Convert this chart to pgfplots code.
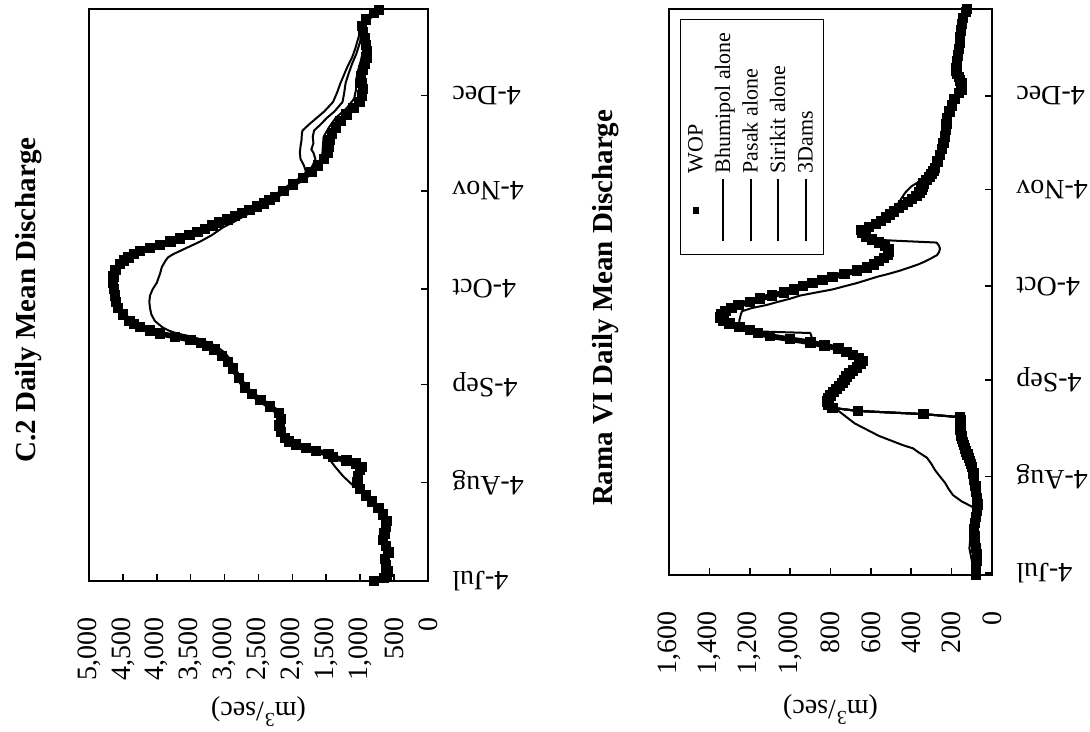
\documentclass[border=0pt]{standalone}
\usepackage{fontspec}
\setmainfont{Liberation Serif}
\usepackage{pgfplots}
\usepackage{pgfplotstable}
\pgfplotsset{compat=1.18}

% ---------- C.2 ----------
\pgfplotstableread{
d v
0 800
1 650
2 610
3 600
5 615
7 630
9 580
11 620
13 660
15 640
17 620
19 610
21 660
23 730
25 830
27 910
29 1000
31 1040
33 1030
35 1000
36 980
37 1060
38 1200
39 1400
40 1470
41 1650
42 1800
43 1950
44 2050
45 2110
47 2170
49 2190
51 2170
53 2200
55 2330
57 2470
59 2600
61 2700
64 2790
67 2875
69 2950
71 3040
73 3150
74 3250
75 3350
76 3500
77 3730
78 3950
79 4100
80 4250
81 4340
82 4400
84 4500
86 4570
88 4600
90 4615
92 4635
94 4645
96 4640
98 4610
100 4540
101 4480
102 4420
103 4340
104 4250
105 4100
106 3950
107 3800
108 3660
109 3520
110 3400
111 3290
112 3180
113 3080
114 2960
115 2850
116 2740
117 2630
118 2520
119 2420
120 2340
121 2260
123 2130
125 1990
127 1840
129 1720
131 1620
133 1530
135 1480
137 1470
139 1450
141 1420
143 1360
145 1290
147 1200
149 1100
151 1010
153 975
155 960
157 970
159 985
161 960
163 930
165 905
167 900
169 915
171 930
173 955
175 970
177 910
179 800
180 720
}\wopA

\pgfplotstableread{
d v
0 790
2 620
5 610
9 590
13 650
17 620
21 650
24 770
27 900
30 1100
33 1250
36 1370
38 1440
40 1490
41 1650
42 1800
43 1940
45 2100
49 2180
53 2190
57 2460
61 2690
64 2770
67 2840
70 2920
72 3000
74 3120
76 3330
77 3480
78 3700
79 3830
80 3920
82 4030
84 4080
86 4100
88 4110
90 4100
92 4060
94 4000
97 3950
99 3925
101 3870
102 3835
103 3760
104 3660
105 3560
107 3360
109 3190
111.5 3020
113 2880
115.5 2670
117.5 2480
119.5 2310
121 2220
123 2110
125 1990
127 1860
129 1800
131 1830
133 1880
135 1890
137 1880
139 1865
141 1860
142 1850
144 1750
146 1640
148 1530
151 1400
154 1340
157 1290
159 1250
162 1190
165 1120
168 1070
171 1030
174 990
176 950
178 860
180 760
}\tdA

\pgfplotstableread{
d v
127 1840
129 1760
131 1700
133 1660
135 1690
136 1720
138 1690
140 1700
142 1680
144 1580
146 1490
148 1380
151 1260
154 1235
157 1215
160 1170
163 1120
166 1060
170 1000
174 985
177 900
180 740
}\sirAdec

\pgfplotstableread{
d v
127 1840
129 1720
131 1640
134 1560
137 1550
140 1540
143 1460
146 1360
149 1200
152 1090
155 1060
158 1060
161 1030
164 990
168 950
172 960
176 950
180 730
}\bhuAdec

% ---------- Rama VI ----------
\pgfplotstableread{
d v
-0.5 80
2 78
4 76
6 74
8 80
10 84
12 86
14 88
16 84
18 78
20 74
22 72
24 75
26 78
28 82
30 88
32 92
34 100
35 105
36 110
37 115
38 122
39 130
40 135
41 140
42 145
43 150
44 152
45 155
46 156
47 158
48 158
49 157
50 158
51 340
52 665
53 790
54 810
55 818
56 810
57 800
58 785
59 770
60 755
61 740
62 730
63 720
64 705
65 690
66 670
67 650
68 640
69 660
70 690
71 720
72 760
73 830
74 900
75 1000
76 1100
77 1160
78 1200
79 1250
80 1300
81 1330
82 1345
83 1340
84 1320
85 1290
86 1255
87 1200
88 1150
89 1090
90 1030
91 980
92 935
93 890
94 840
95 790
96 730
97 670
98 620
99 585
100 560
101 535
102 515
103 510
104 512
105 530
106 560
107 595
108 625
109 645
110 650
111 610
112 575
113 550
114 525
115 505
116 485
117 460
118 440
119 415
120 395
121 375
122 360
123 350
124 345
125 340
126 325
127 310
128 300
129 290
130 282
132 270
134 258
136 248
138 240
140 233
142 228
144 225
146 222
148 210
150 198
152 185
154 165
155 152
156 148
157 150
158 158
159 165
160 172
161 178
162 176
164 172
166 168
168 165
170 160
172 158
174 155
176 150
178 145
180 130
180.8 124
}\wopB

\pgfplotstableread{
d v
-0.5 88
4 100
8 112
12 106
16 100
19 85
21 90
23 150
25 193
27 215
29 233
31 258
33 282
35 300
37 322
39 370
40 391
41 440
42 480
43 520
44 560
46 620
48 680
50 720
52 760
53 790
55 818
57 800
59 770
61 740
63 720
65 690
67 650
68 640
70 690
72 760
73 830
74 880
75 890
76 895
77 900
77.6 1210
79 1240
80 1250
81 1252
82 1248
83 1244
84 1238
85 1190
86 1115
87 1060
88 1000
89 951
90 870
91 788
92 730
93 670
94 620
95 570
96 510
97 456
98 410
99 365
100 330
101 300
102 272
103 262
104 258
105 262
106 275
106.6 480
107 600
108 630
109 650
110 645
111 620
113 565
115 510
117 470
119 420
121 380
123 350
125 340
127 310
130 282
134 258
138 240
142 228
146 222
150 198
154 165
157 150
160 172
164 172
168 165
172 158
176 150
180.8 126
}\tdB

\pgfplotstableread{
d v
110 650
112 590
114 540
116 500
118 470
120 450
122 430
124 400
126 350
128 310
130 285
134 262
138 245
142 232
146 225
150 200
154 168
158 160
162 180
166 170
170 162
174 158
178 150
180.8 128
}\sirBdec

\pgfplotsset{
  mychart/.style={
    scale only axis,
    anchor=south west,
    clip=false,
    x dir=reverse,
    axis line style={line width=0.8pt, black},
    tick align=inside,
    major tick length=3.5pt,
    tick style={line width=0.8pt, black},
    xtick pos=left, ytick pos=right,
    xticklabel pos=left, yticklabel pos=right,
    ytick={0,31,62,92,123,153},
    yticklabels={4-Jul,4-Aug,4-Sep,4-Oct,4-Nov,4-Dec},
    tick label style={font=\fontsize{14}{16}\selectfont},
    xticklabel style={rotate=90, anchor=east, inner sep=0pt},
    yticklabel style={rotate=180, anchor=east, inner sep=0pt},
    xticklabel shift=18pt,
    yticklabel shift=12pt,
    /pgf/number format/1000 sep={,},
    /pgf/number format/assume math mode=true,
  },
  thin/.style={black, line width=1pt, line join=round},
  wopbase/.style={black, line width=2.8pt, line join=round, forget plot},
  wopmark/.style={black, line width=1pt, mark=square*, mark size=2.1pt, mark options={solid}},
}

\newcommand{\legline}{\rule[3pt]{31pt}{0.9pt}}
\newcommand{\legmark}{\makebox[31pt]{\rule[1.6pt]{3.4pt}{3.4pt}}}

\begin{document}
\begin{tikzpicture}
\useasboundingbox (0,0) rectangle (545pt,366pt);

% ================= C.2 =================
\begin{axis}[mychart, at={(44.5pt,75.5pt)}, width=169.5pt, height=286pt,
  xmin=0, xmax=5000, xtick={0,500,...,5000}, ymin=0, ymax=180.3]
\addplot[thin] table[x=v,y=d] {\tdA};
\addplot[thin] table[x=v,y=d] {\sirAdec};
\addplot[thin] table[x=v,y=d] {\bhuAdec};
\addplot[thin] table[x=v,y=d] {\wopA};
\addplot[wopbase] table[x=v,y=d] {\wopA};
\addplot[wopmark] table[x=v,y=d] {\wopA};
\node[rotate=90, font=\bfseries\fontsize{14.5}{17}\selectfont] at (axis description cs:-0.177,0.491) {C.2 Daily Mean Discharge};
\node[rotate=180, font=\fontsize{14}{16}\selectfont] at (axis description cs:0.5,-0.228) {(m\textsuperscript{3}/sec)};
\end{axis}

% ================= Rama VI =================
\begin{axis}[mychart, at={(334.5pt,78.5pt)}, width=161.5pt, height=283pt,
  xmin=0, xmax=1600, xtick={0,200,...,1600}, ymin=-0.6, ymax=180.9]
\addplot[thin] table[x=v,y=d] {\wopB};
\addplot[thin] table[x=v,y=d] {\wopB};
\addplot[thin, restrict y to domain=-1:110] table[x=v,y=d] {\wopB};
\addplot[thin] table[x=v,y=d] {\sirBdec};
\addplot[thin] table[x=v,y=d] {\tdB};
\addplot[wopbase, restrict y to domain=-1:50] table[x=v,y=d] {\wopB};
\addplot[wopbase, restrict y to domain=53:182] table[x=v,y=d] {\wopB};
\addplot[wopmark] table[x=v,y=d] {\wopB};
\node[rotate=90, font=\bfseries\fontsize{14.5}{17}\selectfont] at (axis description cs:-0.195,0.472) {Rama VI Daily Mean Discharge};
\node[rotate=180, font=\fontsize{14}{16}\selectfont] at (axis description cs:0.5,-0.238) {(m\textsuperscript{3}/sec)};
% legend (rotated like the rest of the page)
\node[rotate=90, draw=black, line width=0.6pt, fill=white, inner xsep=6.5pt, inner ysep=1.5pt, anchor=center]
  at (axis description cs:0.257,0.774) {%
  \fontsize{11}{13.75}\selectfont
  \begin{tabular}{@{}l@{\hspace{3pt}}l@{}}
  \legmark & WOP\\
  \legline & Bhumipol alone\\
  \legline & Pasak alone\\
  \legline & Sirikit alone\\
  \legline & 3Dams
  \end{tabular}};
\end{axis}
\end{tikzpicture}
\end{document}
